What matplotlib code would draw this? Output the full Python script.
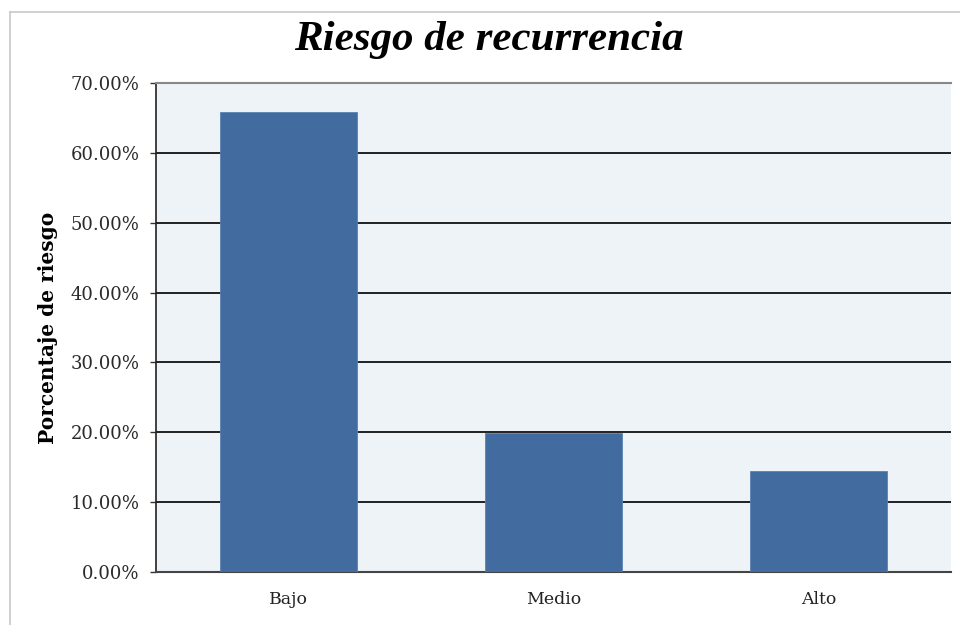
import matplotlib.pyplot as plt
from matplotlib.lines import Line2D
from matplotlib.ticker import PercentFormatter

categories = ["Bajo", "Medio", "Alto"]
riesgo = [65.9, 19.9, 14.5]
y_ticks = [0, 10, 20, 30, 40, 50, 60, 70]

plt.rcParams["font.family"] = ["DejaVu Serif"]

fig = plt.figure(figsize=(9.6, 6.25), dpi=100)
ax = fig.add_axes([0.1625, 0.0848, 0.828, 0.7824])
ax.set_facecolor("#eef3f8")

x = range(len(categories))
ax.bar(x, riesgo, width=0.52, color="#426b9f", edgecolor="#5b82b3", linewidth=0.6, zorder=3)

ax.set_xlim(-0.5, 2.5)
ax.set_ylim(0, 70)
ax.set_yticks(y_ticks)
ax.yaxis.set_major_formatter(PercentFormatter(decimals=2))
ax.set_xticks(list(x))
ax.set_xticklabels(categories)
ax.grid(axis="y", color="#111111", linewidth=1.3, zorder=1)
ax.tick_params(axis="y", labelsize=13, labelcolor="#2a2a2a", color="#333333",
               length=4, width=1, direction="out", pad=8)
ax.tick_params(axis="x", labelsize=12.5, labelcolor="#222222", length=0, pad=14)

ax.spines["right"].set_visible(False)
ax.spines["top"].set_color("#888888")
ax.spines["top"].set_linewidth(1.5)
ax.spines["left"].set_color("#222222")
ax.spines["left"].set_linewidth(1.2)
ax.spines["bottom"].set_color("#444444")
ax.spines["bottom"].set_linewidth(1.5)

ax.set_ylabel("Porcentaje de riesgo", fontsize=14.5, fontweight="bold", labelpad=9)
fig.text(0.509, 0.936, "Riesgo de recurrencia", ha="center", va="center",
         fontsize=31, fontweight="bold", style="italic",
         family=["Liberation Serif", "DejaVu Serif"])

# outer chart border
fig.add_artist(Line2D([10 / 960, 1.0], [1 - 12 / 625, 1 - 12 / 625], color="#c8c8c8", linewidth=1.2))
fig.add_artist(Line2D([10 / 960, 10 / 960], [0.0, 1 - 12 / 625], color="#c8c8c8", linewidth=1.2))

fig.savefig("out.png", dpi=100)
